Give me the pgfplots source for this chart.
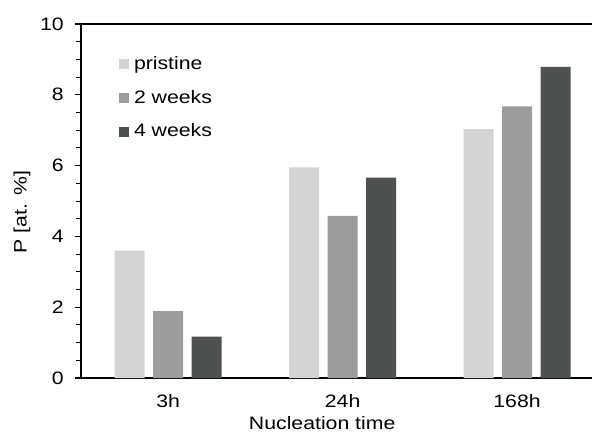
\documentclass[border=0pt]{standalone}
\usepackage{pgfplots}
\pgfplotsset{compat=1.18}
\usepackage{fontspec}
\setmainfont[FakeStretch=1.18]{Liberation Sans}
\definecolor{cA}{HTML}{D4D4D4}
\definecolor{cB}{HTML}{9C9C9C}
\definecolor{cC}{HTML}{4F5050}
\newcommand{\fs}{\fontsize{18pt}{21pt}\selectfont}
\begin{document}
\fs
\begin{tikzpicture}
\useasboundingbox (-81pt,-54pt) rectangle (511pt,378pt);
\begin{axis}[
  at={(0pt,0pt)}, anchor=south west,
  scale only axis, width=511pt, height=354pt,
  ybar=8.5pt, bar width=30pt,
  xmin=-0.5, xmax=2.43, ymin=0, ymax=10,
  axis lines*=left, axis line style={-, line width=1.2pt, black},
  xtick={0,1,2}, xticklabels={3h,24h,168h},
  major x tick style={draw=none},
  ytick={0,2,4,6,8,10}, minor y tick num=3,
  tick align=outside, major tick length=6pt, minor tick length=5pt,
  every tick/.style={black, line width=1pt},
  /pgf/number format/assume math mode=true,
  ticklabel style={font=\fs},
  yticklabel style={xshift=-5pt},
  xticklabel style={yshift=-4pt},
  xlabel={Nucleation time}, ylabel={P [at. \%]},
  label style={font=\fs},
  every axis x label/.style={at={([yshift=-45pt]axis description cs:0.472,0)}, anchor=center},
  every axis y label/.style={at={([xshift=-59pt]axis description cs:0,0.469)}, anchor=center, rotate=90},
  legend style={at={(axis description cs:0.074,0.915)}, anchor=north west, draw=none, fill=none,
    font=\fs, row sep=14pt, inner sep=0pt,
    /tikz/every odd column/.append style={column sep=3pt}},
  legend cell align=left,
  legend image code/.code={\fill[#1] (0pt,-5pt) rectangle (10pt,5pt);},
  clip=false,
]
\addplot[fill=cA, draw=none] coordinates {(0,3.60) (1,5.95) (2,7.03)};
\addplot[fill=cB, draw=none] coordinates {(0,1.89) (1,4.58) (2,7.67)};
\addplot[fill=cC, draw=none] coordinates {(0,1.17) (1,5.66) (2,8.79)};
\legend{pristine,2 weeks,4 weeks}
\draw[line width=1.2pt] ([xshift=-6pt]rel axis cs:0,1) -- (rel axis cs:1,1);
\draw[line width=1.2pt] ([xshift=-6pt]rel axis cs:0,0) -- (rel axis cs:0,0);
\end{axis}
\end{tikzpicture}
\end{document}
